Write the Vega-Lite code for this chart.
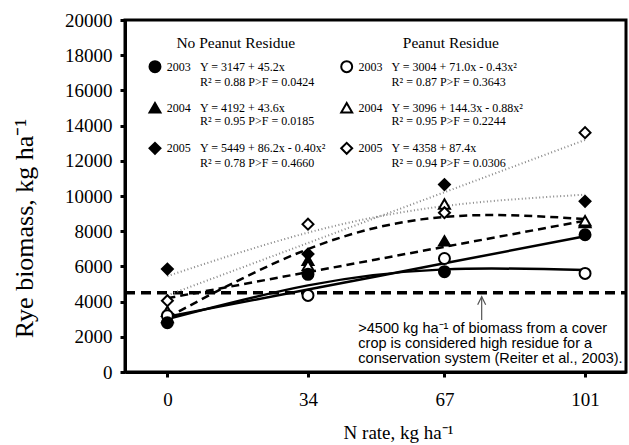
{
  "$schema": "https://vega.github.io/schema/vega-lite/v6.json",
  "width": 501,
  "height": 352,
  "autosize": "none",
  "padding": {"left": 125, "top": 20, "right": 3, "bottom": 73},
  "background": "white",
  "config": {
    "view": {"stroke": "black", "strokeWidth": 3},
    "font": "Liberation Serif",
    "axis": {"labelOverlap": false}
  },
  "datasets": {
    "fit": [
      {"series": "NP2003", "x": 0, "y": 3147}, {"series": "NP2003", "x": 34, "y": 4684}, {"series": "NP2003", "x": 67, "y": 6175}, {"series": "NP2003", "x": 101, "y": 7712},
      {"series": "P2003", "x": 0, "y": 3004}, {"series": "P2003", "x": 34, "y": 4921}, {"series": "P2003", "x": 67, "y": 5831}, {"series": "P2003", "x": 101, "y": 5789},
      {"series": "NP2004", "x": 0, "y": 4192}, {"series": "NP2004", "x": 34, "y": 5674}, {"series": "NP2004", "x": 67, "y": 7113}, {"series": "NP2004", "x": 101, "y": 8596},
      {"series": "P2004", "x": 0, "y": 3096}, {"series": "P2004", "x": 34, "y": 6985}, {"series": "P2004", "x": 67, "y": 8814}, {"series": "P2004", "x": 101, "y": 8693},
      {"series": "NP2005", "x": 0, "y": 5449}, {"series": "NP2005", "x": 34, "y": 7918}, {"series": "NP2005", "x": 67, "y": 9428}, {"series": "NP2005", "x": 101, "y": 10075},
      {"series": "P2005", "x": 0, "y": 4358}, {"series": "P2005", "x": 34, "y": 7330}, {"series": "P2005", "x": 67, "y": 10214}, {"series": "P2005", "x": 101, "y": 13185}
    ],
    "pts": [
      {"series": "NP2004", "x": 0, "y": 3100}, {"series": "NP2004", "x": 34, "y": 6350}, {"series": "NP2004", "x": 67, "y": 7450}, {"series": "NP2004", "x": 101, "y": 8500},
      {"series": "P2004", "x": 0, "y": 3450}, {"series": "P2004", "x": 34, "y": 6050}, {"series": "P2004", "x": 67, "y": 9550}, {"series": "P2004", "x": 101, "y": 8600},
      {"series": "P2003", "x": 0, "y": 3200}, {"series": "P2003", "x": 34, "y": 4350}, {"series": "P2003", "x": 67, "y": 6450}, {"series": "P2003", "x": 101, "y": 5600},
      {"series": "NP2003", "x": 0, "y": 2800}, {"series": "NP2003", "x": 34, "y": 5550}, {"series": "NP2003", "x": 67, "y": 5700}, {"series": "NP2003", "x": 101, "y": 7800},
      {"series": "P2005", "x": 0, "y": 4050}, {"series": "P2005", "x": 34, "y": 8400}, {"series": "P2005", "x": 67, "y": 9050}, {"series": "P2005", "x": 101, "y": 13600},
      {"series": "NP2005", "x": 0, "y": 5850}, {"series": "NP2005", "x": 34, "y": 6700}, {"series": "NP2005", "x": 67, "y": 10650}, {"series": "NP2005", "x": 101, "y": 9700}
    ],
    "legendSym": [
      {"series": "NP2003", "x": -3.0, "y": 17347}, {"series": "NP2004", "x": -3.0, "y": 15017}, {"series": "NP2005", "x": -3.0, "y": 12710},
      {"series": "P2003", "x": 43.36, "y": 17347}, {"series": "P2004", "x": 43.36, "y": 15017}, {"series": "P2005", "x": 43.36, "y": 12710}
    ],
    "headers": [
      {"x": 16.54, "y": 18676, "text": "No Peanut Residue"},
      {"x": 68.54, "y": 18676, "text": "Peanut Residue"}
    ],
    "years": [
      {"x": -0.17, "y": 17347, "text": "2003"}, {"x": -0.17, "y": 15017, "text": "2004"}, {"x": -0.17, "y": 12710, "text": "2005"},
      {"x": 46.2, "y": 17347, "text": "2003"}, {"x": 46.2, "y": 15017, "text": "2004"}, {"x": 46.2, "y": 12710, "text": "2005"}
    ],
    "eqs": [
      {"x": 7.88, "y": 17347, "text": "Y = 3147 + 45.2x"},
      {"x": 7.88, "y": 16477, "text": "R² = 0.88  P>F = 0.0424"},
      {"x": 7.88, "y": 15017, "text": "Y = 4192 + 43.6x"},
      {"x": 7.88, "y": 14261, "text": "R² = 0.95  P>F = 0.0185"},
      {"x": 7.88, "y": 12710, "text": "Y = 5449 + 86.2x - 0.40x²"},
      {"x": 7.88, "y": 11892, "text": "R² = 0.78  P>F = 0.4660"},
      {"x": 54.2, "y": 17347, "text": "Y = 3004 + 71.0x - 0.43x²"},
      {"x": 54.2, "y": 16477, "text": "R² = 0.87  P>F = 0.3643"},
      {"x": 54.2, "y": 15017, "text": "Y = 3096 + 144.3x - 0.88x²"},
      {"x": 54.2, "y": 14261, "text": "R² = 0.95  P>F = 0.2244"},
      {"x": 54.2, "y": 12710, "text": "Y = 4358 + 87.4x"},
      {"x": 54.2, "y": 11892, "text": "R² = 0.94  P>F = 0.0306"}
    ],
    "note": [
      {"x": 46.17, "y": 2426, "text": ">4500 kg ha⁻¹ of biomass from a cover"},
      {"x": 46.17, "y": 1574, "text": "crop is considered high residue for a"},
      {"x": 46.17, "y": 722, "text": "conservation system (Reiter et al., 2003)."}
    ],
    "ref": [{"x": -10.25, "x2": 110.9, "y": 4500}],
    "arrow": [{"x": 76.0, "y": 4279, "y2": 2955}]
  },
  "encoding": {
    "x": {
      "field": "x", "type": "quantitative",
      "scale": {"domain": [-10.25, 110.9], "nice": false, "zero": false},
      "axis": {
        "values": [0, 34, 67, 101], "grid": false, "domainColor": "black", "domainWidth": 3,
        "tickColor": "black", "tickWidth": 3, "tickSize": 5, "labelOverlap": false,
        "labelFont": "Liberation Serif", "labelFontSize": 19, "labelColor": "black", "labelPadding": 13,
        "title": "N rate, kg ha⁻¹", "titleFont": "Liberation Serif", "titleFontSize": 19,
        "titleFontWeight": "normal", "titleColor": "black", "titlePadding": 14, "titleX": 273
      }
    },
    "y": {
      "field": "y", "type": "quantitative",
      "scale": {"domain": [0, 20000], "nice": false, "zero": false},
      "axis": {
        "values": [0, 2000, 4000, 6000, 8000, 10000, 12000, 14000, 16000, 18000, 20000],
        "format": "d", "labelOverlap": false,
        "grid": false, "domainColor": "black", "domainWidth": 3,
        "tickColor": "black", "tickWidth": 3, "tickSize": 5,
        "labelFont": "Liberation Serif", "labelFontSize": 19, "labelColor": "black", "labelPadding": 8,
        "title": "Rye biomass, kg ha⁻¹", "titleFont": "Liberation Serif", "titleFontSize": 26,
        "titleFontWeight": "normal", "titleColor": "black", "titleX": -88, "titleY": 208
      }
    }
  },
  "layer": [
    {
      "data": {"name": "ref"},
      "mark": {"type": "rule", "color": "black", "strokeWidth": 3.5, "strokeDash": [10, 6]},
      "encoding": {"x2": {"field": "x2"}}
    },
    {
      "data": {"name": "fit"},
      "transform": [{"filter": {"field": "series", "oneOf": ["NP2003", "P2003"]}}],
      "mark": {"type": "line", "color": "black", "strokeWidth": 2.5, "interpolate": "natural"},
      "encoding": {"detail": {"field": "series"}}
    },
    {
      "data": {"name": "fit"},
      "transform": [{"filter": {"field": "series", "oneOf": ["NP2004", "P2004"]}}],
      "mark": {"type": "line", "color": "black", "strokeWidth": 2.5, "strokeDash": [8, 5], "interpolate": "natural"},
      "encoding": {"detail": {"field": "series"}}
    },
    {
      "data": {"name": "fit"},
      "transform": [{"filter": {"field": "series", "oneOf": ["NP2005", "P2005"]}}],
      "mark": {"type": "line", "color": "#888888", "strokeWidth": 2, "strokeDash": [1, 2.5], "interpolate": "natural"},
      "encoding": {"detail": {"field": "series"}}
    },
    {
      "data": {"name": "pts"},
      "mark": {"type": "point", "stroke": "black", "strokeWidth": 2, "opacity": 1, "size": 120, "filled": false},
      "encoding": {
        "shape": {"field": "series", "type": "nominal", "legend": null,
          "scale": {"domain": ["NP2003", "NP2004", "NP2005", "P2003", "P2004", "P2005"],
                    "range": ["circle", "triangle-up", "diamond", "circle", "triangle-up", "diamond"]}},
        "fill": {"field": "series", "type": "nominal", "legend": null,
          "scale": {"domain": ["NP2003", "NP2004", "NP2005", "P2003", "P2004", "P2005"],
                    "range": ["black", "black", "black", "white", "white", "white"]}}
      }
    },
    {
      "data": {"name": "legendSym"},
      "mark": {"type": "point", "stroke": "black", "strokeWidth": 2, "opacity": 1, "size": 120, "filled": false},
      "encoding": {
        "shape": {"field": "series", "type": "nominal", "legend": null},
        "fill": {"field": "series", "type": "nominal", "legend": null}
      }
    },
    {
      "data": {"name": "headers"},
      "mark": {"type": "text", "font": "Liberation Serif", "fontSize": 15.5, "align": "center", "baseline": "middle", "color": "black"},
      "encoding": {"text": {"field": "text"}}
    },
    {
      "data": {"name": "years"},
      "mark": {"type": "text", "font": "Liberation Serif", "fontSize": 12, "align": "left", "baseline": "middle", "color": "black"},
      "encoding": {"text": {"field": "text"}}
    },
    {
      "data": {"name": "eqs"},
      "mark": {"type": "text", "font": "Liberation Serif", "fontSize": 12, "align": "left", "baseline": "middle", "color": "black"},
      "encoding": {"text": {"field": "text"}}
    },
    {
      "data": {"name": "note"},
      "mark": {"type": "text", "font": "Liberation Sans", "fontSize": 14.5, "align": "left", "baseline": "middle", "color": "black"},
      "encoding": {"text": {"field": "text"}}
    },
    {
      "data": {"name": "arrow"},
      "mark": {"type": "rule", "color": "#555555", "strokeWidth": 1.2},
      "encoding": {"y2": {"field": "y2"}}
    },
    {
      "data": {"name": "arrow"},
      "mark": {"type": "point", "shape": "M-0.8,1.6L0,0L0.8,1.6", "size": 100, "filled": false, "stroke": "#555555", "strokeWidth": 1.2, "opacity": 1},
      "encoding": {}
    }
  ]
}
